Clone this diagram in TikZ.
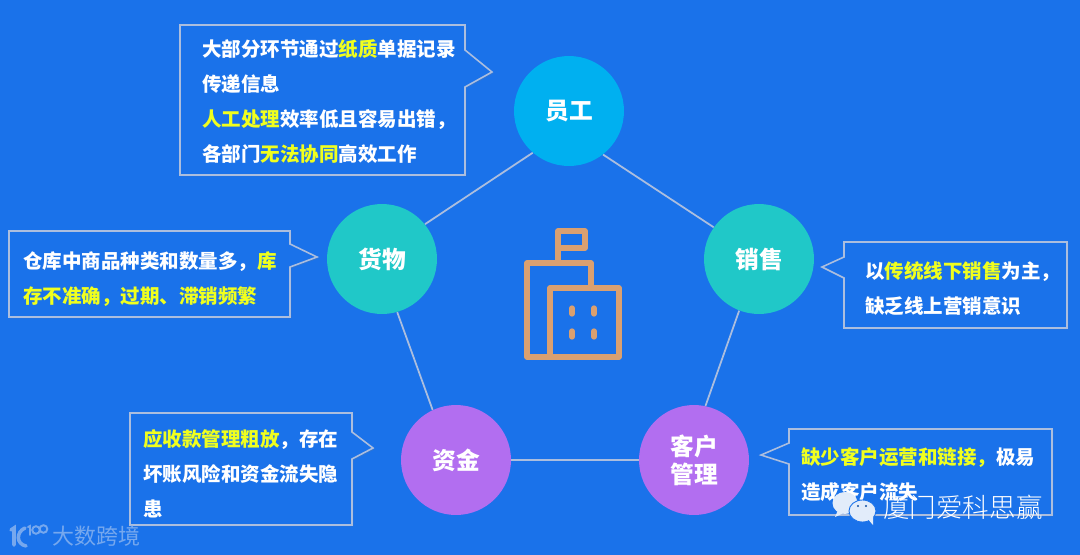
\documentclass[tikz,border=0pt]{standalone}
\usepackage{fontspec}
\setmainfont{Noto Sans CJK SC}
\newfontfamily\lightcjk{Noto Sans CJK SC Light}
\usetikzlibrary{shadows}
\definecolor{bgblue}{RGB}{26, 114, 234}
\definecolor{edgegray}{RGB}{172, 190, 222}
\definecolor{markyellow}{RGB}{240, 255, 30}
\definecolor{skyfill}{RGB}{0, 176, 240}
\definecolor{tealfill}{RGB}{32, 200, 200}
\definecolor{violetfill}{RGB}{178, 110, 240}
\definecolor{iconorange}{RGB}{218, 160, 112}
\definecolor{logoblue}{RGB}{118, 168, 238}
\definecolor{bubblewhite}{RGB}{226, 236, 250}
\newcommand{\hl}[1]{\textcolor{markyellow}{#1}}
\tikzset{
    topic/.style={circle, minimum size=2.2cm, inner sep=0pt, text=white, align=center,
        font=\bfseries\fontsize{13.5}{16}\selectfont},
    spoke/.style={edgegray, line width=1pt},
    calloutbox/.style={draw=edgegray, fill=bgblue, line width=0.9pt,
        drop shadow={shadow xshift=0.8pt, shadow yshift=-0.8pt, opacity=0.2}},
    callouttext/.style={anchor=west, inner sep=0pt, text=white, align=left,
        font=\bfseries\fontsize{11.1}{20}\selectfont},
    iconline/.style={iconorange, line width=3pt, line join=round, line cap=round},
    logoline/.style={logoblue, line width=2pt, line cap=round},
    bubble/.style={fill=bubblewhite, draw=bgblue, line width=0.5pt},
}

\begin{document}
\begin{tikzpicture}[x=0.02cm, y=-0.02cm]

    \fill[bgblue] (0, 0) rectangle (1080, 555);

    % topics
    \node[topic, fill=skyfill] (staff) at (569, 111) {员工};
    \node[topic, fill=tealfill] (goods) at (382, 259) {货物};
    \node[topic, fill=tealfill] (sales) at (759, 259) {销售};
    \node[topic, fill=violetfill] (funds) at (456, 460) {资金};
    \node[topic, fill=violetfill] (clients) at (694, 460) {客户\\管理};

    \draw[spoke] (staff.308) -- (sales.145);
    \draw[spoke] (sales.249) -- (clients.78);
    \draw[spoke] (clients.west) -- (funds.east);
    \draw[spoke] (funds.115) -- (goods.286);
    \draw[spoke] (goods.39) -- (staff.229);

    % callouts
    \draw[calloutbox] (180, 25) -- (465, 25) -- (465, 50) -- (492, 72) -- (465, 87)
        -- (465, 175) -- (180, 175) -- cycle;
    \node[callouttext] (stafftext) at (202, 101.5)
        {大部分环节通过\hl{纸质}单据记录\\传递信息\\\hl{人工处理}效率低且容易出错，\\各部门\hl{无法协同}高效工作};

    \draw[calloutbox] (9, 231) -- (290, 231) -- (290, 244) -- (317, 257) -- (290, 267)
        -- (290, 317) -- (9, 317) -- cycle;
    \node[callouttext] (goodstext) at (23, 279)
        {仓库中商品种类和数量多，\hl{库}\\\hl{存不准确，过期、滞销频繁}};

    \draw[calloutbox] (844, 242) -- (1067, 242) -- (1067, 328) -- (844, 328) -- (844, 278)
        -- (822, 267) -- (844, 257) -- cycle;
    \node[callouttext] (salestext) at (865, 289)
        {以\hl{传统线下销售}为主，\\缺乏线上营销意识};

    \draw[calloutbox] (130, 413) -- (352, 413) -- (352, 432) -- (373, 448) -- (352, 459)
        -- (352, 525) -- (130, 525) -- cycle;
    \node[callouttext] (fundstext) at (143, 473.5)
        {\hl{应收款管理粗放}，存在\\坏账风险和资金流失隐\\患};

    \draw[calloutbox] (789, 429) -- (1052, 429) -- (1052, 515) -- (789, 515) -- (789, 464)
        -- (761, 455) -- (789, 443) -- cycle;
    \node[callouttext] (clientstext) at (801, 474.5)
        {\hl{缺少客户运营和链接，}极易\\造成客户流失};

    % building
    \draw[iconline] (591, 288) -- (591, 263) -- (527, 263) -- (527, 357) -- (550, 357);
    \draw[iconline] (550, 288) rectangle (619, 357);
    \draw[iconline] (558, 263) -- (558, 231) -- (585, 231) -- (585, 248) -- (558, 248);
    \foreach \wx in {572, 594}
        \foreach \wy in {311, 334}
            \draw[iconline] (\wx, \wy - 3) -- (\wx, \wy + 3);

    % marks
    \fill[bubblewhite] (838, 510) -- (835, 517) -- (846, 512) -- cycle;
    \fill[bubblewhite] (845, 503) ellipse (12.5 and 11);
    \filldraw[bubble] (862.5, 511) ellipse (13.5 and 11);
    \fill[bubblewhite] (867, 518) -- (873, 525) -- (873, 515) -- cycle;
    \fill[bgblue!70!black] (858, 506) circle (1.2) (866, 506) circle (1.2);
    \node[anchor=west, inner sep=0pt, text=white, font=\lightcjk\fontsize{15.1}{15}\selectfont]
        (wechatname) at (883, 507) {厦门爱科思赢};

    \draw[logoline] (11, 530) -- (14, 528) -- (14, 545);
    \draw[logoline] (25, 528) .. controls (16, 532) and (16, 544) .. (26, 546);
    \draw[logoline, line width=1.1pt] (28, 527) -- (30, 526) -- (30, 535);
    \draw[logoline, line width=1.1pt] (36, 530) circle (3.8) (43.5, 529) circle (3.8);
    \node[anchor=west, inner sep=0pt, text=logoblue, font=\fontsize{12.5}{12.5}\selectfont]
        (logoname) at (52, 536) {大数跨境};

\end{tikzpicture}
\end{document}
